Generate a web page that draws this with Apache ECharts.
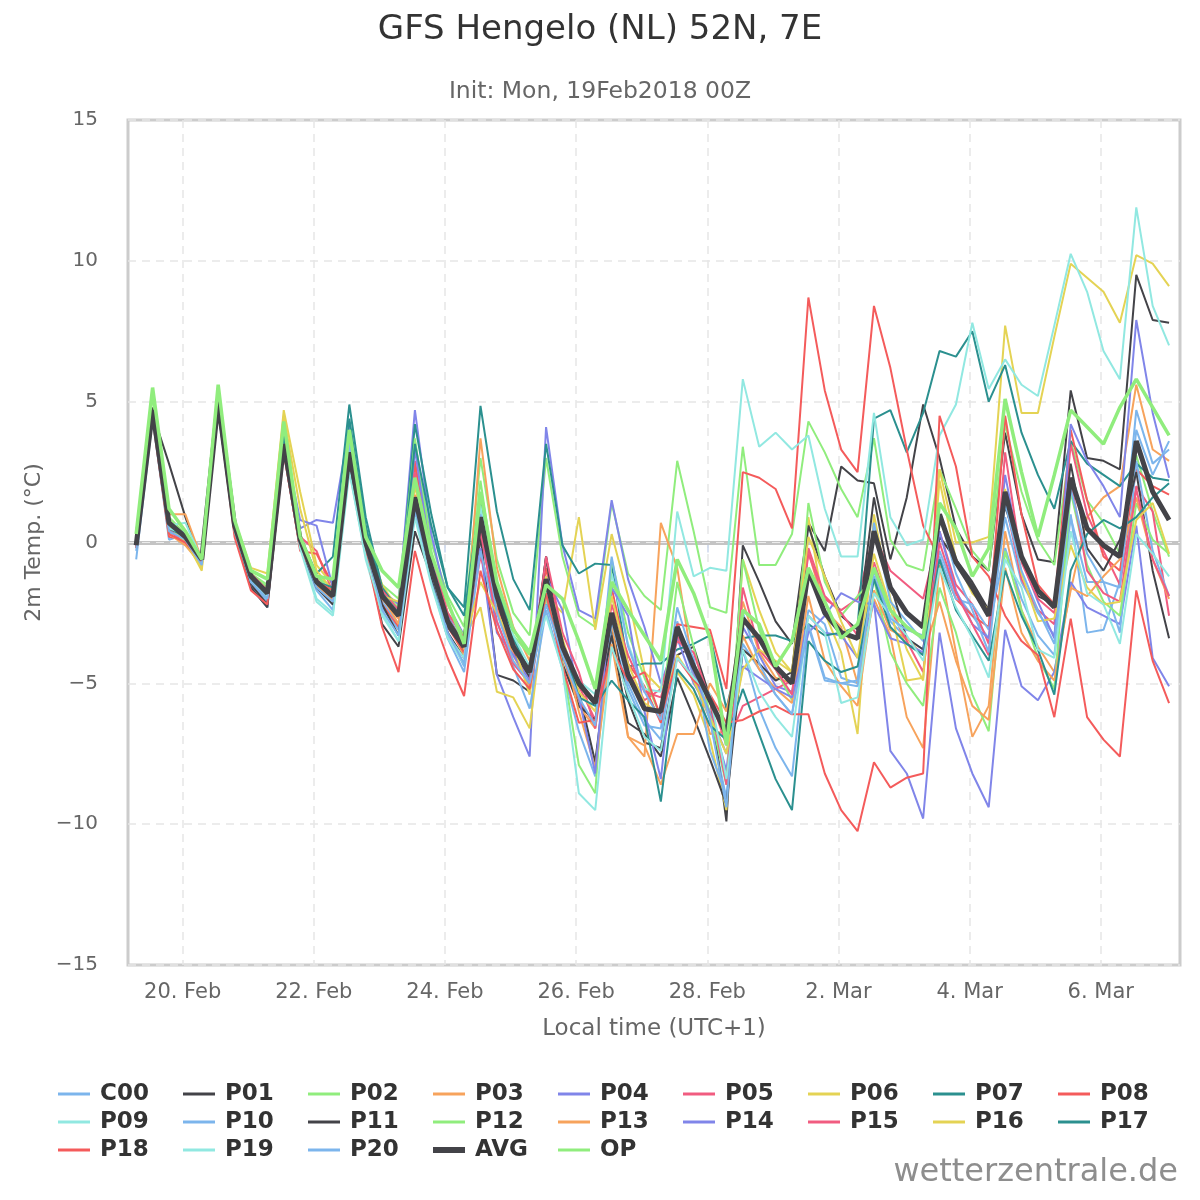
<!DOCTYPE html>
<html>
<head>
<meta charset="utf-8">
<title>GFS Hengelo (NL) 52N, 7E</title>
<script src="https://cdn.jsdelivr.net/npm/echarts@6/dist/echarts.min.js"></script>
<style>
html, body { margin: 0; padding: 0; background: #ffffff; }
#chart { width: 1200px; height: 1200px; }
</style>
</head>
<body>
<div id="chart"></div>
<script>
// GFS ensemble, 2m temperature, Hengelo (NL)
// time: hours after 20 Feb 00:00 local (UTC+1), 6-hourly from 19 Feb 07:00
const START_HOUR = -17;
const STEP_HOURS = 6;

const tickHours = [0, 48, 96, 144, 192, 240, 288, 336];
const tickLabels = ['20. Feb', '22. Feb', '24. Feb', '26. Feb', '28. Feb', '2. Mar', '4. Mar', '6. Mar'];

const c00 = [
    -0.6, 4.4, 0.1, 0.3, -0.8, 4.9, 0.5, -1.4,
    -2.1, 3.9, 0.0, -1.6, -2.2, 3.3, -0.1, -2.1,
    -2.9, 1.1, -1.1, -3.2, -4.4, 0.2, -2.4, -3.9,
    -5.2, -2.0, -3.9, -5.4, -7.9, -3.2, -5.2, -6.5,
    -6.6, -2.8, -4.8, -6.3, -9.1, -3.6, -4.5, -5.4,
    -6.1, -2.4, -2.9, -4.8, -5.0, -1.2, -2.8, -3.4,
    -3.8, -0.3, -1.8, -2.6, -3.4, 0.9, -1.4, -2.5,
    -3.3, 1.0, -3.2, -3.1, -1.4, 4.7, 2.8, 3.3
];
const p01 = [
    -0.2, 4.6, 2.8, 0.9, -0.7, 4.9, 0.4, -1.5,
    -2.2, 3.4, 0.0, -1.5, -2.0, 3.1, -0.2, -2.9,
    -3.7, 0.4, -1.2, -3.2, -4.1, 0.2, -4.7, -4.9,
    -5.3, -0.5, -3.9, -5.3, -7.8, -3.0, -5.6, -7.1,
    -7.3, -4.0, -3.7, -5.5, -9.9, -0.1, -1.4, -2.8,
    -3.6, 0.7, -0.3, 2.7, 2.2, 2.1, -0.6, 1.6,
    4.9, 3.0, 0.5, -0.5, -1.0, 3.9, 1.0, -0.6,
    -0.7, 5.4, 3.0, 2.9, 2.6, 9.5, 7.9, 7.8
];
const p02 = [
    0.2, 5.3, 0.9, 0.3, -0.7, 5.4, 0.7, -1.1,
    -1.5, 4.1, 0.3, -1.2, -1.6, 3.7, 0.1, -1.5,
    -2.0, 3.6, 0.0, -1.9, -3.0, 3.0, -0.6, -2.5,
    -3.3, 3.0, -0.5, -2.6, -3.0, 1.4, -1.1, -1.9,
    -2.4, 2.9, 0.4, -2.3, -2.5, 3.4, -0.8, -0.8,
    0.3, 4.3, 3.2, 1.9, 0.9, 3.7, 0.1, -0.8,
    -1.0, 2.6, 1.2, -0.3, -1.0, 4.2, 1.8, 0.1,
    -0.8, 3.6, 1.5, 0.7, -0.4, 3.1, 1.1, -0.5
];
const p03 = [
    0.1, 4.5, 1.0, 1.0, -0.6, 4.8, 0.5, -1.2,
    -1.7, 3.6, 0.1, -1.3, -2.0, 3.0, 0.0, -2.0,
    -2.7, 1.4, -1.0, -2.9, -4.0, 3.7, -0.9, -3.0,
    -4.2, -1.7, -4.0, -5.8, -6.6, -2.8, -6.9, -7.6,
    0.7, -0.9, -4.6, -6.8, -6.7, -2.1, -3.9, -4.8,
    -5.0, -0.3, -2.4, -3.0, -5.0, -2.0, -3.3, -6.2,
    -7.3, -0.8, -3.9, -6.9, -5.8, 0.4, -2.4, -3.7,
    -4.6, -1.7, 0.9, 1.6, 2.0, 5.6, 3.3, 2.9
];
const p04 = [
    0.0, 4.6, 0.4, 0.2, -0.7, 4.8, 0.5, -1.3,
    -1.8, 3.6, 0.5, 0.8, 0.7, 4.1, 0.2, -1.7,
    -2.2, 4.7, 0.3, -2.2, -3.3, -0.2, -4.7, -6.2,
    -7.6, 4.1, -0.1, -2.4, -2.7, 1.5, -1.3, -3.0,
    -5.0, -3.4, -5.0, -6.0, -8.1, -3.0, -4.0, -5.1,
    -5.3, -2.6, -3.2, -3.3, -4.1, -2.1, -7.4, -8.2,
    -9.8, -3.2, -6.6, -8.2, -9.4, -3.1, -5.1, -5.6,
    -4.6, -1.4, -2.3, -2.6, -2.9, 0.6, -4.1, -5.1
];
const p05 = [
    -0.1, 4.6, 0.4, 0.0, -0.7, 4.9, 0.5, -1.2,
    -1.9, 3.5, 0.2, -0.3, -1.8, 2.9, -0.1, -2.3,
    -3.0, 2.9, -0.8, -2.9, -3.8, -0.5, -2.3, -3.5,
    -4.9, -0.6, -3.5, -5.1, -6.3, -2.5, -4.6, -5.6,
    -5.2, -3.3, -4.4, -5.5, -7.2, -5.8, -5.5, -5.2,
    -4.9, -0.4, -2.0, -2.4, -2.0, 0.3, -1.0, -1.5,
    -2.0, 0.4, -1.5, -2.2, -3.6, 1.5, -1.3, -2.4,
    -2.9, 3.5, 1.0, -0.3, -1.5, 2.0, 1.1, -2.6
];
const p06 = [
    0.2, 4.5, 0.7, 0.1, -1.0, 5.0, 0.8, -0.9,
    -1.1, 4.7, 1.8, -0.8, -1.5, 3.4, 0.3, -1.5,
    -2.4, 2.0, -0.5, -2.2, -3.4, -2.3, -5.3, -5.5,
    -6.6, -1.9, -2.5, 0.9, -3.1, 0.3, -1.9, -4.6,
    -5.2, -4.6, -5.4, -7.0, -9.5, -0.6, -2.4, -3.9,
    -4.6, 0.9, -2.5, -3.9, -6.8, 1.0, -2.0, -3.8,
    -4.9, 2.6, 0.0, 0.0, 0.2, 7.7, 4.6, 4.6,
    7.3, 9.9, 9.4, 8.9, 7.8, 10.2, 9.9, 9.1
];
const p07 = [
    0.1, 4.6, 0.6, 0.2, -0.6, 4.9, 0.6, -1.2,
    -1.7, 3.9, 0.2, -1.1, -0.5, 4.9, 0.9, -1.6,
    -2.4, 4.2, 1.0, -1.6, -2.3, 4.85, 1.1, -1.3,
    -2.4, 3.5, -0.1, -1.1, -0.75, -0.8, -4.4, -4.3,
    -4.3, -3.8, -3.6, -3.3, -5.9, -3.4, -3.3, -3.3,
    -3.5, -2.9, -3.3, -3.2, -3.0, 4.4, 4.7, 3.2,
    4.6, 6.8, 6.6, 7.5, 5.0, 6.3, 3.9, 2.4,
    1.2, 3.6, 2.8, 2.4, 2.0, 2.8, 2.3, 2.2
];
const p08 = [
    -0.1, 4.4, 0.2, 0.1, -0.7, 4.8, 0.4, -1.4,
    -1.9, 3.3, -0.3, -0.4, -1.5, 2.8, -0.4, -2.2,
    -3.0, 2.8, -0.9, -3.0, -3.9, 1.2, -2.1, -3.9,
    -4.8, -0.9, -4.0, -5.6, -6.5, -1.6, -4.3, -5.1,
    -6.4, -2.9, -3.0, -3.1, -5.2, 2.5, 2.3, 1.9,
    0.5, 8.7, 5.4, 3.3, 2.5, 8.4, 6.2, 3.3,
    0.6, -0.6, -2.0, -2.6, -3.0, 4.5, 1.0, -1.5,
    -2.2, 4.0, 1.5, -0.5, -1.0, 2.6, 2.0, 1.7
];
const p09 = [
    0.1, 4.4, 0.6, 0.7, -0.6, 4.7, 0.4, -1.3,
    -2.0, 3.6, -0.1, -2.0, -2.5, 2.6, -0.6, -2.6,
    -3.5, 1.6, -1.3, -3.3, -4.1, 0.6, -2.0, -3.8,
    -4.7, -1.6, -3.8, -4.9, -5.4, -1.1, -3.6, -5.2,
    -5.3, 1.1, -1.2, -0.9, -1.0, 5.8, 3.4, 3.9,
    3.3, 3.8, 1.2, -0.5, -0.5, 4.6, 0.9, -0.1,
    0.1, 3.8, 4.9, 7.8, 5.45, 6.5, 5.6, 5.2,
    7.7, 10.25, 8.9, 6.8, 5.8, 11.9, 8.4, 7.0
];
const p10 = [
    -0.2, 4.5, 0.3, 0.4, -0.7, 4.8, 0.3, -1.6,
    -2.3, 3.4, -0.1, -1.7, -2.4, 3.0, -0.3, -2.3,
    -3.1, 1.0, -1.4, -3.4, -4.6, -0.3, -2.8, -4.4,
    -5.9, -2.4, -4.5, -6.7, -8.3, -2.8, -5.0, -6.3,
    -7.0, -3.1, -4.1, -7.4, -9.0, -3.8, -5.9, -7.3,
    -8.3, -3.0, -4.9, -5.0, -4.9, 0.7, -2.1, -2.8,
    -3.5, -0.5, -2.0, -2.2, -3.1, -0.2, -2.0, -3.3,
    -4.0, 0.9, -1.4, -1.4, -3.2, 2.9, -0.3, -1.9
];
const p11 = [
    -0.1, 4.8, 0.5, 0.1, -0.5, 5.0, 0.4, -1.6,
    -2.3, 3.4, -0.1, -1.6, -2.2, 2.8, -0.3, -2.2,
    -3.3, 1.5, -1.2, -3.0, -3.8, 0.6, -2.1, -3.8,
    -4.8, -0.5, -4.3, -5.8, -6.3, -3.3, -6.4, -6.8,
    -7.6, -4.8, -6.2, -7.7, -9.3, -3.8, -4.3, -4.9,
    -4.6, 0.6, -1.2, -2.6, -3.1, 1.6, -1.5, -3.4,
    -3.8, 0.2, -0.6, -1.4, -2.4, 1.3, -0.6, -1.9,
    -2.2, 2.8, -0.2, -1.0, 0.1, 2.5, -1.0, -3.4
];
const p12 = [
    0.3, 5.2, 0.8, 0.2, -0.7, 5.3, 0.6, -1.1,
    -1.6, 3.9, 0.2, -1.2, -1.8, 3.8, 0.0, -1.8,
    -2.3, 3.7, -0.4, -2.5, -3.3, 2.2, -1.7, -3.3,
    -4.0, -1.9, -4.3, -7.9, -8.9, -0.6, -3.2, -4.8,
    -6.2, -1.4, -3.7, -6.1, -8.6, -0.6, -3.1, -4.5,
    -5.6, 1.4, -1.4, -2.6, -1.9, -1.3, -3.9, -5.0,
    -5.8, -1.6, -3.2, -5.4, -6.7, -0.3, -2.4, -4.1,
    -5.2, 1.8, -0.8, -2.1, -2.6, 1.4, 0.1, -0.4
];
const p13 = [
    0.0, 4.5, 0.3, -0.1, -0.8, 4.9, 0.6, -1.3,
    -1.9, 3.5, 0.1, -1.5, -2.1, 3.2, 0.0, -1.9,
    -2.9, 1.7, -0.7, -2.6, -3.8, 1.3, -2.4, -4.0,
    -5.1, -1.5, -3.6, -6.0, -8.0, -3.6, -6.9, -7.2,
    -8.6, -6.8, -6.8, -5.0, -6.0, -3.3, -4.5, -5.2,
    -5.7, -1.9, -4.2, -5.1, -5.8, -1.7, -3.1, -3.4,
    -4.0, -2.1, -4.2, -5.8, -6.3, -0.9, -3.2, -4.2,
    -4.9, -1.6, -1.9, -1.2, -0.6, 1.6, -0.6, -2.0
];
const p14 = [
    -0.1, 4.5, 0.5, 0.2, -0.6, 4.9, 0.5, -1.3,
    -1.9, 3.6, 0.8, 0.6, -1.6, 3.6, 0.2, -1.9,
    -2.6, 3.3, -0.6, -2.6, -3.6, 0.9, -3.2, -4.0,
    -4.9, -1.2, -2.4, -5.5, -8.2, -1.6, -2.6, -6.0,
    -8.4, -3.1, -4.6, -6.1, -7.5, -4.4, -4.8, -5.2,
    -5.5, -3.2, -2.6, -1.8, -2.1, -2.2, -3.4, -3.6,
    -3.9, 0.4, -1.7, -2.9, -3.4, 2.4, -0.6, -2.1,
    -3.4, 4.2, 2.9, 2.0, 0.9, 7.9, 4.6, 2.3
];
const p15 = [
    0.0, 4.7, 0.5, 0.1, -0.6, 5.1, 0.6, -1.1,
    -1.7, 3.2, -0.2, -1.3, -1.9, 3.1, 0.2, -1.7,
    -2.4, 2.5, -0.4, -2.5, -3.4, 0.4, -2.8, -4.3,
    -5.0, -0.5, -3.2, -4.6, -6.6, -2.2, -4.0, -5.3,
    -5.5, -3.5, -3.9, -5.6, -8.6, -1.6, -3.8, -4.5,
    -5.4, -0.2, -1.9, -2.5, -3.3, -0.7, -2.4, -3.5,
    -4.6, 0.0, -1.8, -2.9, -4.0, 3.2, -0.7, -2.0,
    -2.5, 2.2, -1.0, -1.8, -2.1, 1.9, -0.6, -1.9
];
const p16 = [
    0.2, 4.6, 0.6, 0.0, -0.9, 4.8, 0.6, -1.0,
    -1.3, 4.5, 1.2, -1.0, -1.7, 3.1, 0.0, -1.9,
    -2.1, 1.3, -1.0, -2.7, -3.6, -1.4, -2.5, -3.6,
    -5.4, -1.2, -3.4, -5.3, -6.0, -1.9, -4.3, -5.7,
    -6.1, -4.0, -4.9, -6.2, -7.5, -4.5, -3.8, -4.2,
    -4.6, 0.2, -1.2, -2.8, -4.1, -0.4, -2.3, -4.9,
    -4.8, 2.2, -0.6, -1.8, -2.4, 1.9, -1.1, -2.8,
    -2.7, -0.1, -1.6, -2.2, -2.1, 0.8, 1.4, -0.4
];
const p17 = [
    0.0, 4.6, 0.5, 0.2, -0.6, 4.7, 0.4, -1.3,
    -1.9, 3.8, 0.1, -1.4, -1.6, 4.4, 0.6, -1.8,
    -2.5, 3.5, 0.6, -1.6, -2.6, 1.6, -1.6, -3.4,
    -4.6, -2.2, -3.6, -5.5, -5.8, -4.9, -5.6, -6.2,
    -9.2, -4.5, -5.2, -6.5, -7.0, -5.2, -6.8, -8.4,
    -9.5, -3.5, -4.2, -4.6, -4.4, -1.3, -3.0, -3.6,
    -4.0, -0.6, -2.4, -3.3, -4.2, -1.0, -2.6, -3.8,
    -5.4, -1.0, 0.3, 0.8, 0.5, 0.9, 1.6, 2.1
];
const p18 = [
    -0.2, 4.5, 0.3, 0.0, -0.7, 4.8, 0.2, -1.7,
    -2.2, 3.2, -0.2, -1.4, -1.7, 3.0, -0.3, -3.0,
    -4.6, -0.3, -2.5, -4.1, -5.45, -1.0, -3.1, -4.5,
    -5.2, -1.8, -4.4, -6.4, -6.3, -3.8, -4.9, -4.6,
    -6.2, -4.1, -4.9, -5.4, -6.4, -6.3, -6.0, -5.8,
    -6.1, -6.1, -8.2, -9.5, -10.25, -7.8, -8.7, -8.35,
    -8.2, 4.5, 2.7, -0.5, -1.2, -2.6, -3.5, -4.0,
    -6.2, -2.7, -6.2, -7.0, -7.6, -1.7, -4.2, -5.7
];
const p19 = [
    0.2, 4.5, 0.5, 0.3, -0.6, 4.8, 0.4, -1.4,
    -1.9, 3.3, -0.2, -2.1, -2.6, 2.5, -0.5, -2.5,
    -3.5, 0.9, -1.5, -3.4, -4.3, 1.3, -2.1, -3.3,
    -4.4, -2.6, -4.5, -8.9, -9.5, -3.7, -5.4, -6.9,
    -7.4, -4.1, -4.8, -5.4, -8.4, -3.8, -5.3, -6.2,
    -6.9, -2.6, -3.2, -5.7, -5.5, -1.8, -2.6, -3.3,
    -4.2, -0.9, -2.3, -3.4, -4.8, -0.6, -1.6, -3.8,
    -4.1, 0.4, -1.8, -2.2, -3.6, 0.3, -0.4, -1.2
];
const p20 = [
    -0.3, 4.6, 0.4, 0.1, -0.8, 4.9, 0.5, -1.4,
    -2.0, 3.5, 0.0, -1.6, -2.1, 3.5, -0.1, -2.4,
    -3.3, 1.2, -1.0, -3.2, -4.3, 1.0, -2.5, -4.2,
    -5.0, -2.2, -4.0, -5.5, -6.5, -0.5, -3.7, -5.3,
    -6.3, -2.3, -4.2, -6.3, -9.4, -2.5, -4.3, -5.4,
    -6.1, -2.9, -4.8, -5.0, -5.1, -1.0, -2.7, -3.1,
    -3.3, 1.0, -1.1, -2.4, -3.9, 1.4, -1.0, -2.4,
    -3.6, 1.9, -0.4, -1.4, -1.6, 4.0, 2.4, 3.6
];
const avg = [
    -0.1, 4.7, 0.7, 0.2, -0.6, 5.0, 0.6, -1.2,
    -1.8, 3.5, 0.1, -1.4, -1.9, 3.2, 0.0, -1.9,
    -2.6, 1.6, -0.9, -2.8, -3.7, 0.9, -1.9, -3.7,
    -4.6, -1.3, -3.7, -5.0, -5.7, -2.5, -4.7, -5.9,
    -6.0, -3.0, -4.4, -5.6, -6.8, -2.7, -3.4, -4.4,
    -5.0, -1.0, -2.5, -3.2, -3.4, 0.4, -1.6, -2.5,
    -3.0, 1.0, -0.7, -1.6, -2.6, 1.8, -0.5, -1.7,
    -2.3, 2.3, 0.5, -0.1, -0.5, 3.6, 1.8, 0.8
];
const op = [
    0.3, 5.5, 1.2, 0.4, -0.6, 5.6, 0.8, -1.0,
    -1.3, 4.3, 0.2, -1.2, -1.3, 4.0, 0.2, -1.0,
    -1.6, 2.3, -0.4, -2.1, -3.6, 1.8, -1.4, -3.1,
    -3.9, -1.5, -2.0, -3.5, -5.2, -1.4, -2.4, -3.3,
    -4.2, -0.6, -1.8, -3.4, -7.2, -2.4, -2.9, -4.4,
    -3.5, -0.9, -2.1, -3.4, -2.9, -0.9, -2.4, -3.0,
    -3.4, 1.4, 0.5, -1.2, -0.2, 5.1, 2.5, 0.2,
    2.4, 4.7, 4.1, 3.5, 4.8, 5.8, 4.8, 3.8
];

const seriesNames = ['C00', 'P01', 'P02', 'P03', 'P04', 'P05', 'P06', 'P07', 'P08', 'P09',
    'P10', 'P11', 'P12', 'P13', 'P14', 'P15', 'P16', 'P17', 'P18', 'P19', 'P20', 'AVG', 'OP'];
const seriesValues = [c00, p01, p02, p03, p04, p05, p06, p07, p08, p09,
    p10, p11, p12, p13, p14, p15, p16, p17, p18, p19, p20, avg, op];

const palette = ['#7cb5ec', '#434348', '#90ed7d', '#f7a35c', '#8085e9',
    '#f15c80', '#e4d354', '#2b908f', '#f45b5b', '#91e8e1'];

function lineWidth(name) {
    if (name === 'AVG') return 5;
    if (name === 'OP') return 3.5;
    return 2;
}

const chartDom = document.getElementById('chart');
const myChart = echarts.init(chartDom);

const series = seriesNames.map(function (name, k) {
    const color = palette[k % palette.length];
    const s = {
        name: name,
        type: 'line',
        symbol: 'none',
        showSymbol: false,
        animation: false,
        silent: true,
        data: seriesValues[k].map(function (v, i) {
            return [START_HOUR + STEP_HOURS * i, v];
        }),
        lineStyle: { color: color, width: lineWidth(name) },
        itemStyle: { color: color },
        z: 2
    };
    if (k === 0) {
        // zero line
        s.markLine = {
            silent: true,
            symbol: 'none',
            z: 1,
            animation: false,
            label: { show: false },
            data: [
                { yAxis: 0, lineStyle: { color: '#c4c4c4', width: 4, type: 'solid' } },
                { yAxis: 0, lineStyle: { color: '#ececec', width: 1, type: [8, 6] } }
            ]
        };
    }
    return s;
});

const option = {
    backgroundColor: '#ffffff',
    animation: false,
    textStyle: { fontFamily: 'DejaVu Sans' },
    title: [
        {
            text: 'GFS Hengelo (NL) 52N, 7E',
            left: 'center',
            top: 8,
            textStyle: { fontSize: 34, fontWeight: 'normal', color: '#333333' }
        },
        {
            text: 'Init: Mon, 19Feb2018 00Z',
            left: 'center',
            top: 75,
            textStyle: { fontSize: 23.5, fontWeight: 'normal', color: '#666666' }
        }
    ],
    legend: {
        data: seriesNames.map(function (name) {
            return {
                name: name,
                icon: name === 'AVG' ? 'path://M0,0H32V6H0Z' : 'path://M0,0H32V3H0Z'
            };
        }),
        left: 53,
        top: 1077,
        width: 1190,
        itemWidth: 32,
        itemHeight: 14,
        itemGap: 4,
        selectedMode: false,
        textStyle: {
            fontSize: 23,
            fontWeight: 'bold',
            color: '#333333',
            width: 79,
            lineHeight: 24,
            padding: [0, 0, 0, 5]
        }
    },
    grid: {
        left: 128,
        right: 20,
        top: 120,
        bottom: 235,
        show: true,
        borderColor: '#cccccc',
        borderWidth: 3
    },
    xAxis: {
        type: 'value',
        min: -20,
        max: 365,
        name: 'Local time (UTC+1)',
        nameLocation: 'middle',
        nameGap: 53,
        nameTextStyle: { fontSize: 23, color: '#666666' },
        axisLine: { show: false },
        axisTick: {
            show: true,
            length: 10,
            customValues: tickHours,
            lineStyle: { color: '#ccd6eb', width: 1.5 }
        },
        axisLabel: {
            customValues: tickHours,
            margin: 17,
            fontSize: 21,
            color: '#666666',
            formatter: function (v) {
                const k = tickHours.indexOf(v);
                return k >= 0 ? tickLabels[k] : '';
            }
        },
        splitLine: {
            show: true,
            lineStyle: { color: '#e6e6e6', width: 1.5, type: [8, 6] }
        }
    },
    yAxis: {
        type: 'value',
        min: -15,
        max: 15,
        interval: 5,
        name: '2m Temp. (°C)',
        nameLocation: 'middle',
        nameGap: 78,
        nameTextStyle: { fontSize: 22, color: '#666666' },
        axisLine: { show: false },
        axisTick: { show: false },
        axisLabel: {
            margin: 30,
            fontSize: 20,
            color: '#666666',
            formatter: function (v) {
                return v < 0 ? '\u2212' + Math.abs(v) : String(v);
            }
        },
        splitLine: {
            show: true,
            lineStyle: { color: '#e6e6e6', width: 1.5, type: [8, 6] }
        }
    },
    graphic: [
        {
            type: 'text',
            right: 22,
            top: 1157,
            style: {
                text: 'wetterzentrale.de',
                font: '32px "DejaVu Sans"',
                fill: '#8e8e8e'
            }
        }
    ],
    series: series
};

myChart.setOption(option);

window.addEventListener('resize', function () {
    myChart.resize();
});
</script>
</body>
</html>
